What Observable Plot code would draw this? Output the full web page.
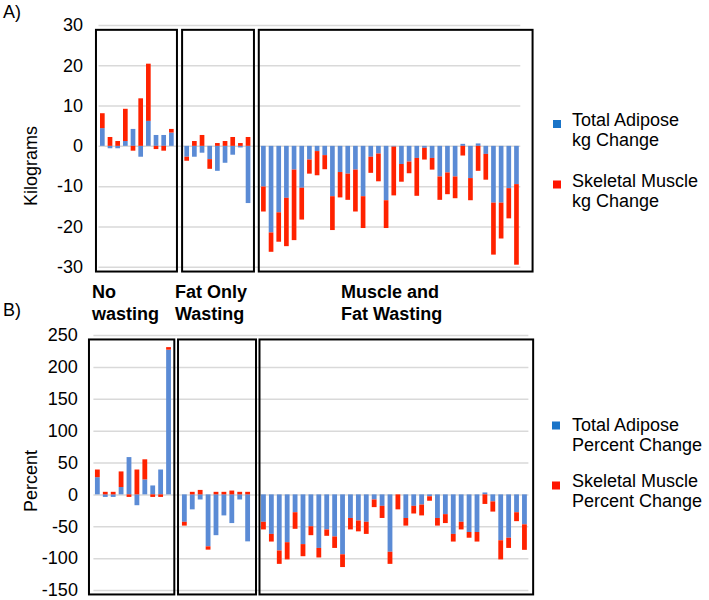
<!DOCTYPE html>
<html><head><meta charset="utf-8">
<script src="https://cdn.jsdelivr.net/npm/d3@7"></script>
<script src="https://cdn.jsdelivr.net/npm/@observablehq/plot@0.6"></script>
<style>
body{margin:0;background:#fff;}
#root{position:relative;width:709px;height:600px;overflow:hidden;background:#fff;font-family:"Liberation Sans",Arial,sans-serif;}
#root > svg{position:absolute;left:0;}
</style></head><body><div id="root"></div>
<script>
// ---------- data ----------
const groupSizes = [10, 9, 34];
const groupLabels = [["No", "wasting"], ["Fat Only", "Wasting"], ["Muscle and", "Fat Wasting"]];
const seriesKeys = ["adipose", "muscle"];
const legendKg = [["Total Adipose", "kg Change"], ["Skeletal Muscle", "kg Change"]];
const legendPct = [["Total Adipose", "Percent Change"], ["Skeletal Muscle", "Percent Change"]];
const kgTicks = [-30, -20, -10, 0, 10, 20, 30];
const pctTicks = [-150, -100, -50, 0, 50, 100, 150, 200, 250];

const kgAdipose = [4.4, -0.6, -0.6, 1.2, 4.2, -2.7, 6.2, 2.7, 2.7, 3.3,
  -2.7, -2.7, -1.7, -3.3, -6.2, -4.2, -2.2, -0.4, -14.2,
  -10.1, -21.5, -16.5, -12.9, -5.9, -10.4, -3.4, -1.3, -2.3, -12.5, -6.5, -6.9, -5.9, -12.5, -2.7, -1.9, -13.5,
  -0.2, -4.5, -3.9, -3.0, -0.5, -3.0, -7.6, -6.6, -7.6, 0.5, -8.0, 0.6, -2.0, -14.1, -14.1, -10.5, -9.5];
const kgMuscle = [3.7, 2.2, 1.2, 8.0, -1.2, 11.8, 14.2, -0.8, -1.2, 0.9,
  -1.0, 1.2, 2.7, -2.4, 0.7, 1.2, 2.2, 0.7, 2.2,
  -6.2, -4.8, -7.3, -12.0, -17.5, -7.9, -3.5, -6.0, -3.5, -8.4, -6.3, -6.5, -10.4, -7.9, -4.0, -6.9, -6.9,
  -12.1, -4.4, -2.9, -9.4, -2.9, -2.9, -5.8, -5.4, -5.4, -2.4, -5.5, -6.2, -6.4, -12.9, -8.9, -7.5, -20.0];
const pctAdipose = [27, -4, -4, 11.5, 58.5, -17, 23.5, 14, 39, 227,
  -43, -23.5, -8, -81.5, -64, -33, -45, -8, -73.7,
  -43, -62, -88, -75, -28, -78, -50, -84, -55, -66, -94, -37, -41, -43, -8, -18, -90,
  0, -37, -18, -16, -3, -37, -31, -62, -43, -59, -59, 3, -11, -72, -68, -28, -47];
const pctMuscle = [12, 4, 4, 24.5, -4, 39, 31.5, -4, -4, 4,
  -6, 4, 7, -5.2, 4, 4, 6, 4, 4,
  -12, -12, -21, -27, -26, -19, -14, -15, -10, -18, -20, -18, -17, -19, -12, -19, -19,
  -23.5, -12, -12, -17, -7, -12, -14, -12, -12, -9, -15, -15, -16, -30, -16, -14, -40];

// ---------- derived ----------
const slotOf = [];
const groupSpans = [];
let off = 0;
groupSizes.forEach((n) => {
  groupSpans.push({start: off, end: off + n});
  for (let j = 0; j < n; j++) slotOf.push(off + j);
  off += n + 1;
});
const nSlots = off - 1;

function buildRows(ad, mu) {
  return [
    ...ad.map((v, k) => ({slot: slotOf[k], series: seriesKeys[0], value: v})),
    ...mu.map((v, k) => ({slot: slotOf[k], series: seriesKeys[1], value: v}))
  ];
}

const BAR_BLUE = "#5b8bd5", BAR_RED = "#ff2200";
const LEG_BLUE = "#1a74c8", LEG_RED = "#ff1500";
const FONT = "'Liberation Sans', Arial, sans-serif";

function panel(cfg) {
  const boxes = groupSpans.map((s, g) => ({x1: s.start - cfg.padL[g], x2: s.end + cfg.padR[g]}));
  return Plot.plot({
    width: 709, height: cfg.height,
    marginLeft: cfg.ml, marginRight: cfg.mr, marginTop: cfg.mt, marginBottom: cfg.mb,
    style: {background: "transparent", overflow: "visible", fontSize: "18px", fontFamily: FONT, color: "#000"},
    x: {domain: [0, nSlots], axis: null},
    y: {domain: cfg.domain, ticks: cfg.ticks.length - 1, tickSize: 0, tickPadding: cfg.tickPad, tickFormat: d => String(d), label: null},
    color: {domain: seriesKeys, range: [BAR_BLUE, BAR_RED]},
    marks: [
      Plot.ruleY(cfg.ticks, {stroke: "#d9d9d9", strokeWidth: 1.5}),
      Plot.rectY(cfg.rows, {x1: "slot", x2: d => d.slot + 1, y: "value", fill: "series", insetLeft: cfg.inset, insetRight: cfg.inset}),
      Plot.rect(boxes, {x1: "x1", x2: "x2", y1: cfg.boxY[0], y2: cfg.boxY[1], fill: "none", stroke: "#000", strokeWidth: 2})
    ]
  });
}

const root = document.getElementById("root");

const svgA = panel({
  rows: buildRows(kgAdipose, kgMuscle), ticks: kgTicks, domain: [-30, 30],
  height: 285, ml: 98.5, mr: 188.7, mt: 25, mb: 18.3, tickPad: 16, inset: 1.5,
  padL: [0.33, 0.1, 0.1], padR: [0.23, 0.27, 1.6], boxY: [-31.2, 28.8]
});
svgA.style.top = "0px";
root.appendChild(svgA);

const svgB = panel({
  rows: buildRows(pctAdipose, pctMuscle), ticks: pctTicks, domain: [-150, 250],
  height: 290, ml: 93.4, mr: 180.6, mt: 25, mb: 10, tickPad: 16, inset: 1.55,
  padL: [0.56, 0.3, 0.0], padR: [0.23, 0.56, 0.6], boxY: [-157, 243]
});
svgB.style.top = "310px";
root.appendChild(svgB);

// ---------- text overlay ----------
const ov = d3.select(root).append("svg")
  .attr("width", 709).attr("height", 600)
  .style("position", "absolute").style("top", "0px").style("left", "0px")
  .attr("font-family", FONT).attr("font-size", 18).attr("fill", "#000");

ov.append("text").attr("x", 3).attr("y", 18).text("A)");
ov.append("text").attr("x", 3).attr("y", 316).text("B)");

ov.append("text").attr("transform", "translate(37,166) rotate(-90)").attr("text-anchor", "middle").text("Kilograms");
ov.append("text").attr("transform", "translate(37,481) rotate(-90)").attr("text-anchor", "middle").text("Percent");

const groupX = [92, 175, 341];
groupLabels.forEach((lines, g) => {
  lines.forEach((t, li) => {
    ov.append("text").attr("x", groupX[g]).attr("y", 298 + li * 22)
      .attr("font-weight", "bold").text(t);
  });
});

function legend(items, sqX, sqYs, textX, baseYs) {
  const cols = [LEG_BLUE, LEG_RED];
  items.forEach((lines, i) => {
    ov.append("rect").attr("x", sqX).attr("y", sqYs[i]).attr("width", 8).attr("height", 8).attr("fill", cols[i]);
    lines.forEach((t, li) => {
      ov.append("text").attr("x", textX).attr("y", baseYs[i] + li * 20).text(t);
    });
  });
}
legend(legendKg, 553, [120, 180.5], 572, [126, 187]);
legend(legendPct, 552, [421.5, 481.5], 572, [431, 487]);
</script></body></html>
